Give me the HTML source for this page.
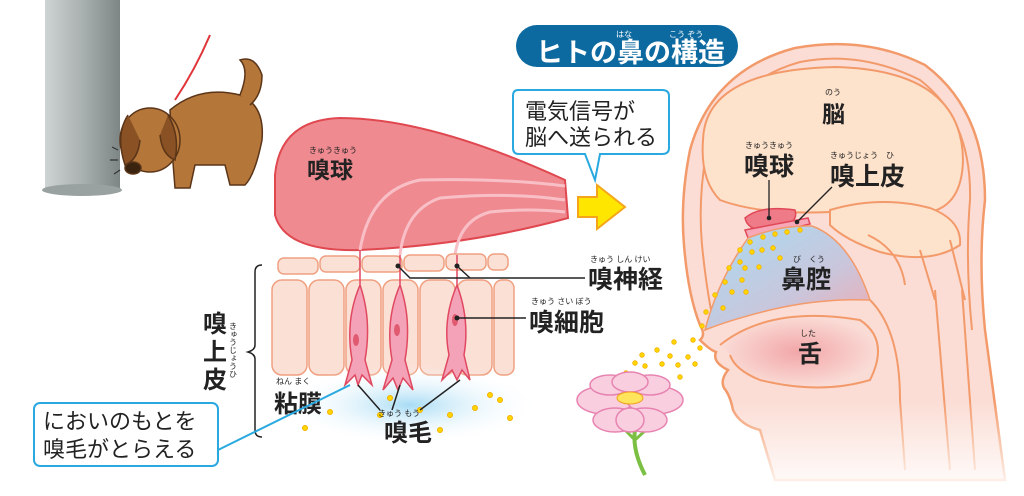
<!DOCTYPE html>
<html><head><meta charset="utf-8"><style>
body{margin:0;background:#fff}
svg{display:block}
text{font-family:"Liberation Sans","Noto Sans CJK JP",sans-serif;fill:#222}
.b{font-weight:bold}
</style></head><body>
<svg width="1024" height="496" viewBox="0 0 1024 496" xmlns="http://www.w3.org/2000/svg">
<defs>
<linearGradient id="pil" x1="0" x2="1"><stop offset="0" stop-color="#cfd3d3"/><stop offset=".5" stop-color="#a9b0b0"/><stop offset="1" stop-color="#7d8585"/></linearGradient>
<radialGradient id="glow" cx=".5" cy=".5" r=".5"><stop offset="0" stop-color="#a8dcf5"/><stop offset="1" stop-color="#fff" stop-opacity="0"/></radialGradient>
<linearGradient id="cav" x1="0" y1="0" x2="1" y2="1"><stop offset="0" stop-color="#a8dcf2"/><stop offset=".6" stop-color="#c9c6dc"/><stop offset="1" stop-color="#f1aab0"/></linearGradient>
<linearGradient id="fade" x1="0" y1="0" x2="0" y2="1"><stop offset="0" stop-color="#fff" stop-opacity="0"/><stop offset="1" stop-color="#fff"/></linearGradient>
<radialGradient id="tong" cx=".5" cy=".5" r=".5"><stop offset="0" stop-color="#f2a6a8"/><stop offset="1" stop-color="#fadcd6"/></radialGradient>
</defs>

<!-- pillar -->
<rect x="45" y="0" width="75" height="190" fill="url(#pil)"/>
<ellipse cx="82" cy="190" rx="40" ry="6" fill="#9aa1a1"/>
<path d="M210 35 Q195 70 175 100" stroke="#e0353a" stroke-width="2" fill="none"/>
<!-- dog -->
<g stroke="#5b3518" stroke-width="1.5">
<path d="M170 110 Q200 85 240 95 Q265 105 262 140 Q255 175 245 185 L230 185 L225 165 L195 165 L190 188 L175 188 L172 150 Z" fill="#b5763a"/>
<path d="M240 95 Q250 70 240 60 Q255 55 262 75 Q262 95 250 105" fill="#b5763a"/>
<ellipse cx="150" cy="140" rx="30" ry="32" fill="#b5763a"/>
<path d="M128 115 Q115 135 125 165 Q138 160 140 140" fill="#8a5224"/>
<path d="M168 115 Q180 135 175 160 Q162 155 160 135" fill="#8a5224"/>
<ellipse cx="133" cy="168" rx="8" ry="6" fill="#3a2410"/>
</g>
<path d="M118 150 l-6 -3 M118 160 l-8 0 M120 170 l-6 4" stroke="#333" stroke-width="1.2"/>

<!-- olfactory bulb -->
<path d="M275 175 Q280 120 340 118 Q430 118 565 180 L568 218 Q470 245 360 250 Q285 252 275 215 Z" fill="#ef8a90" stroke="#e04850" stroke-width="2"/>
<g stroke="#f8c0c6" stroke-width="3" fill="none">
<path d="M360 250 Q370 190 420 180 Q500 178 565 186"/>
<path d="M400 255 Q405 210 440 198 Q510 192 565 200"/>
<path d="M455 255 Q460 220 490 212 Q530 208 565 212"/>
</g>
<text x="307" y="178" font-size="23" class="b">嗅球</text>
<text x="309" y="153" font-size="8">きゅうきゅう</text>

<path d="M578 197 L597 197 L597 185 L625 207 L597 229 L597 217 L578 217 Z" fill="#ffe600" stroke="#f4a51c" stroke-width="2"/>

<path d="M518 90 Q513 90 513 96 L513 148 Q513 154 519 154 L585 154 L595 180 L600 154 L662 154 Q669 154 669 148 L669 96 Q669 90 662 90 Z" fill="#fff" stroke="#29a9e0" stroke-width="2"/>
<text x="525" y="119" font-size="22">電気信号が</text>
<text x="525" y="145" font-size="22">脳へ送られる</text>

<rect x="516" y="25" width="222" height="42" rx="21" fill="#0d6aa0"/>
<text x="536" y="62" font-size="27" class="b" style="fill:#fff">ヒトの鼻の構造</text>
<text x="616" y="37" font-size="8" style="fill:#fff">はな</text>
<text x="669" y="37" font-size="8" style="fill:#fff">こう ぞう</text>

<!-- epithelium -->
<g fill="#fbe0d6" stroke="#f0a080" stroke-width="1.5">
<rect x="278" y="258" width="40" height="16" rx="6"/><rect x="320" y="256" width="40" height="16" rx="6"/><rect x="362" y="256" width="40" height="16" rx="6"/><rect x="404" y="255" width="40" height="16" rx="6"/><rect x="446" y="254" width="40" height="16" rx="6"/><rect x="488" y="254" width="20" height="16" rx="6"/>
<rect x="272" y="280" width="35" height="95" rx="10"/><rect x="309" y="280" width="35" height="95" rx="10"/><rect x="346" y="280" width="35" height="95" rx="10"/><rect x="383" y="280" width="35" height="95" rx="10"/><rect x="420" y="280" width="35" height="95" rx="10"/><rect x="457" y="280" width="35" height="95" rx="10"/><rect x="494" y="280" width="20" height="95" rx="8"/>
</g>
<ellipse cx="410" cy="405" rx="130" ry="40" fill="url(#glow)"/>
<g fill="#f4a2b8" stroke="#e04860" stroke-width="1.5">
<path d="M360 250 L360 285 Q345 320 352 360 L345 385 L355 375 L358 385 L362 375 L372 385 L365 360 Q372 320 360 285"/>
<path d="M400 255 L400 285 Q385 320 392 360 L383 390 L393 378 L398 390 L403 378 L413 390 L405 360 Q412 320 400 285"/>
<path d="M457 255 L457 285 Q442 320 449 355 L442 380 L452 370 L457 380 L462 370 L470 380 L464 355 Q470 320 457 285"/>
</g>
<g fill="#e05a70"><ellipse cx="356" cy="340" rx="3" ry="6"/><ellipse cx="397" cy="330" rx="3" ry="6"/><ellipse cx="455" cy="320" rx="3" ry="6"/></g>
<g fill="#ffd700" stroke="#f4b000"><circle cx="305" cy="428" r="2.5"/><circle cx="330" cy="412" r="2.5"/><circle cx="380" cy="415" r="2.5"/><circle cx="420" cy="410" r="2.5"/><circle cx="450" cy="415" r="2.5"/><circle cx="475" cy="408" r="2.5"/><circle cx="490" cy="395" r="2.5"/><circle cx="510" cy="418" r="2.5"/><circle cx="440" cy="430" r="2.5"/><circle cx="390" cy="398" r="2.5"/><circle cx="500" cy="400" r="2.5"/></g>

<g stroke="#222" stroke-width="1.5" fill="none">
<path d="M398 266 L410 278 L585 278"/><path d="M457 266 L470 278"/>
<path d="M457 318 L526 318"/>
<path d="M358 385 L380 410"/><path d="M400 385 L392 410"/><path d="M460 380 L420 410"/>
</g>
<g fill="#222"><circle cx="398" cy="266" r="2.5"/><circle cx="457" cy="266" r="2.5"/><circle cx="457" cy="318" r="2.5"/></g>
<text x="588" y="288" font-size="25" class="b">嗅神経</text>
<text x="590" y="262" font-size="8">きゅう しん けい</text>
<text x="529" y="331" font-size="25" class="b">嗅細胞</text>
<text x="531" y="304" font-size="8">きゅう さい ぼう</text>
<text x="274" y="412" font-size="24" class="b">粘膜</text>
<text x="276" y="384" font-size="8">ねん まく</text>
<text x="384" y="441" font-size="24" class="b">嗅毛</text>
<text x="378" y="416" font-size="8">きゅう もう</text>
<path d="M262 265 Q255 265 255 272 L255 345 Q255 350 248 352 Q255 354 255 359 L255 430 Q255 437 262 437" stroke="#222" stroke-width="1.5" fill="none"/>
<text x="203" y="332" font-size="24" class="b">嗅</text>
<text x="203" y="360" font-size="24" class="b">上</text>
<text x="203" y="388" font-size="24" class="b">皮</text>
<text x="233" y="322" font-size="8" writing-mode="tb">きゅうじょうひ</text>

<!-- bottom-left bubble -->
<path d="M218 450 L350 385" stroke="#29a9e0" stroke-width="2"/>
<rect x="34" y="403" width="184" height="63" rx="6" fill="#fff" stroke="#29a9e0" stroke-width="2"/>
<text x="43" y="429" font-size="22">においのもとを</text>
<text x="43" y="457" font-size="22">嗅毛がとらえる</text>

<!-- head -->
<path d="M1005 480 L985 330 Q978 260 985 200 Q985 110 925 65 Q865 35 795 48 Q712 70 690 150 Q680 200 684 245 Q688 295 700 325 Q706 335 700 340 Q710 350 716 352 Q712 362 728 370 Q720 380 724 388 Q730 395 733 410 Q740 425 760 430 L775 480 Z" fill="#fbddd5" stroke="#f39a6b" stroke-width="2.5"/>
<path d="M972 330 Q965 260 970 200 Q972 120 920 80 Q860 50 800 62 Q728 82 706 155 Q698 200 702 245 Q706 285 712 315" fill="none" stroke="#f39a6b" stroke-width="2"/>
<path d="M720 345 Q770 305 860 320 Q890 340 870 380 Q820 395 760 380 Q735 370 730 355" fill="url(#tong)" stroke="#f39a6b" stroke-width="2"/>
<path d="M870 300 Q900 330 900 400 L905 470 M935 290 L950 470 M962 290 L975 470" stroke="#f39a6b" stroke-width="2" fill="none"/>
<rect x="690" y="400" width="330" height="96" fill="url(#fade)"/>
<path d="M703 140 Q705 70 835 67 Q962 70 963 160 Q962 205 930 212 L830 212 Q760 215 720 200 Q700 180 703 140 Z" fill="#fde2cc" stroke="#f39a6b" stroke-width="2"/>
<path d="M830 210 Q880 195 930 208 Q962 220 960 245 Q930 265 880 252 Q845 240 830 225 Z" fill="#fde2cc" stroke="#f39a6b" stroke-width="2"/>
<path d="M868 235 Q900 250 905 285 M920 250 L935 300 M950 240 L965 300" stroke="#f39a6b" stroke-width="2" fill="none"/>
<path d="M745 218 Q760 205 795 210 Q800 225 770 230 Q748 232 745 218 Z" fill="#ef7a88" stroke="#e04858" stroke-width="1.5"/>
<path d="M745 230 L808 218 L810 224 L748 238 Z" fill="#f6a8b8" stroke="#e04858" stroke-width="1.5"/>
<path d="M748 238 Q780 225 812 226 Q850 240 870 300 Q820 298 770 310 Q730 320 705 330 Q718 280 748 238 Z" fill="url(#cav)" stroke="#f39a6b" stroke-width="1.5"/>
<g fill="#ffd700" stroke="#f4b000" stroke-width=".8"><circle cx="750" cy="242" r="2.3"/><circle cx="763" cy="237" r="2.3"/><circle cx="775" cy="234" r="2.3"/><circle cx="787" cy="232" r="2.3"/><circle cx="800" cy="230" r="2.3"/><circle cx="740" cy="250" r="2.3"/><circle cx="752" cy="252" r="2.3"/><circle cx="762" cy="250" r="2.3"/><circle cx="773" cy="248" r="2.3"/><circle cx="780" cy="258" r="2.3"/><circle cx="740" cy="262" r="2.3"/><circle cx="729" cy="268" r="2.3"/><circle cx="745" cy="268" r="2.3"/><circle cx="759" cy="267" r="2.3"/><circle cx="725" cy="282" r="2.3"/><circle cx="742" cy="280" r="2.3"/><circle cx="732" cy="292" r="2.3"/><circle cx="746" cy="292" r="2.3"/><circle cx="715" cy="295" r="2.3"/><circle cx="723" cy="308" r="2.3"/><circle cx="706" cy="312" r="2.3"/><circle cx="702" cy="326" r="2.3"/><circle cx="674" cy="342" r="2.3"/><circle cx="693" cy="340" r="2.3"/><circle cx="700" cy="348" r="2.3"/><circle cx="657" cy="350" r="2.3"/><circle cx="670" cy="356" r="2.3"/><circle cx="688" cy="357" r="2.3"/><circle cx="695" cy="364" r="2.3"/><circle cx="642" cy="355" r="2.3"/><circle cx="635" cy="363" r="2.3"/><circle cx="645" cy="366" r="2.3"/><circle cx="662" cy="364" r="2.3"/><circle cx="678" cy="365" r="2.3"/><circle cx="626" cy="373" r="2.3"/><circle cx="636" cy="376" r="2.3"/><circle cx="651" cy="377" r="2.3"/><circle cx="680" cy="377" r="2.3"/><circle cx="639" cy="388" r="2.3"/></g>
<!-- flower -->
<path d="M635 430 Q632 450 645 475" stroke="#7cc043" stroke-width="4" fill="none"/>
<path d="M625 430 L635 440 L648 428" stroke="#7cc043" stroke-width="3" fill="none"/>
<g fill="#f9cfe0" stroke="#e783b1" stroke-width="1.5">
<ellipse cx="605" cy="400" rx="28" ry="14"/><ellipse cx="655" cy="400" rx="28" ry="14"/><ellipse cx="615" cy="420" rx="22" ry="12"/><ellipse cx="645" cy="420" rx="22" ry="12"/><ellipse cx="610" cy="385" rx="20" ry="10"/><ellipse cx="650" cy="385" rx="20" ry="10"/><ellipse cx="630" cy="382" rx="18" ry="10"/><ellipse cx="630" cy="420" rx="14" ry="12"/>
</g>
<ellipse cx="630" cy="398" rx="13" ry="6" fill="#ffe45c" stroke="#f0a020"/>
<!-- head labels -->
<text x="822" y="122" font-size="23" class="b">脳</text>
<text x="825" y="95" font-size="8">のう</text>
<text x="744" y="175" font-size="25" class="b">嗅球</text>
<text x="745" y="148" font-size="8">きゅうきゅう</text>
<text x="830" y="185" font-size="25" class="b">嗅上皮</text>
<text x="830" y="158" font-size="8">きゅうじょう　ひ</text>
<text x="781" y="288" font-size="25" class="b">鼻腔</text>
<text x="793" y="262" font-size="8">び　くう</text>
<text x="798" y="362" font-size="24" class="b">舌</text>
<text x="800" y="336" font-size="8">した</text>
<g stroke="#222" stroke-width="1.3"><path d="M769 180 L769 218"/><path d="M832 187 L797 222"/></g>
<g fill="#222"><circle cx="769" cy="218" r="2.3"/><circle cx="797" cy="222" r="2.3"/></g>
</svg>
</body></html>
